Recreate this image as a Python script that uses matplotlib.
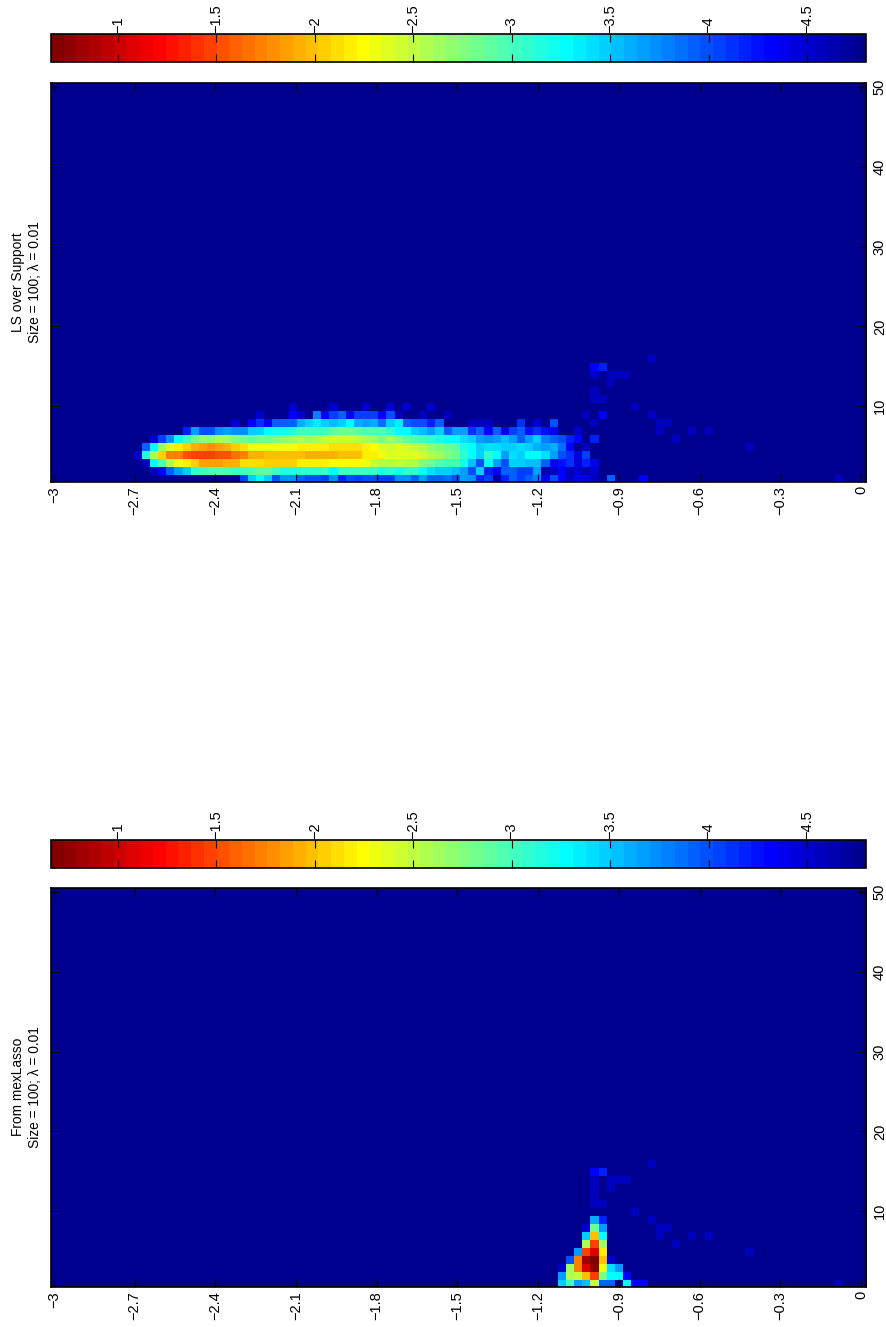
import numpy as np
import matplotlib
matplotlib.use('Agg')
import matplotlib.pyplot as plt
from matplotlib.colors import LinearSegmentedColormap

plt.rcParams['font.family'] = ['Liberation Sans', 'DejaVu Sans']

# log10 values, one list per row, from column ls_first[i]
bg = -6
ls_first = [23, 12, 11, 10, 11, 12, 16, 22, 25]
ls_row1 = [-4.05, -3.5, -3.3, -3.5, -4.0, -3.75, -3.75, -3.9, -4.0, -4.0, -4.05, -3.75,
           -4.2, -4.0, -4.05, -4.0, -4.0, -4.05, -4.05, -3.75, -3.75, -3.95, -3.7, -3.95, -3.95, -3.85, -4.0,
           -3.7, -3.75, -4.2, -4.05, -4.7, -4.2, -3.95, -4.05, -3.95, -3.8, -4.4, -4.0, -4.3, -4.55, -4.35,
           -4.35, -4.55, bg, -3.9]
ls_row2 = [-4.55, -4.3, -3.95, -3.65, -3.45, -3.1, -3.05, -2.95, -2.95, -2.95, -3.0, -3.05, -2.95, -2.9,
           -2.9, -3.0, -3.15, -3.15, -3.1, -3.1, -3.1, -3.05, -3.25,
           -3.0, -3.0, -3.0, -3.05, -3.05, -3.15, -3.1, -3.2, -3.1, -3.1, -3.25, -3.4, -3.45, -3.5, -3.55,
           -3.65, -4.0, -3.5, -4.2, -4.3, -3.95, -3.95, -4.05, -4.05, -3.7, -4.65, -4.55, -4.3, -4.6, -4.5,
           -4.65, -4.5]
ls_row3 = [-4.55, -3.3, -2.95, -2.6, -2.3, -2.15, -2.05, -1.85, -1.85, -1.85, -1.95, -1.95, -2.1, -2.1,
           -2.1, -2.05, -2.05, -2.05, -2.05, -2.15, -2.15, -2.15, -2.2, -2.22,
           -2.22, -2.22, -2.22, -2.3, -2.5, -2.55, -2.6, -2.5, -2.55, -2.6, -2.75, -2.8, -2.95, -3.05, -3.05,
           -3.2, -3.55, -4.0, -3.3, -3.7, -4.0, -3.45, -3.5, -3.55, -3.55, -3.95, -4.3, -4.25, -4.1, -4.45,
           -4.2, -4.4]
ls_row4 = [-4.5, -3.15, -2.55, -2.05, -1.75, -1.7, -1.55, -1.5, -1.5, -1.5, -1.55, -1.55, -1.65, -1.75,
           -1.9, -1.9, -1.97, -1.97, -1.97, -1.97, -1.97, -1.95, -1.9, -1.9, -1.92,
           -2.0, -2.0, -2.0, -2.15, -2.2, -2.3, -2.35, -2.35, -2.35, -2.4, -2.45, -2.55, -2.65, -2.75, -2.85,
           -3.1, -3.25, -3.5, -3.1, -3.25, -3.65, -3.4, -3.5, -3.25, -3.25, -3.4, -3.65, -4.0, -4.15, -4.45,
           -4.05]
ls_row5 = [-3.95, -3.3, -2.65, -2.35, -2.2, -2.05, -1.9, -1.85, -1.8, -1.88, -1.95, -2.05, -2.1, -2.32,
           -2.32, -2.32, -2.3, -2.3, -2.3, -2.2, -2.15, -2.15, -2.15, -2.12,
           -2.12, -2.12, -2.12, -2.15, -2.25, -2.35, -2.45, -2.4, -2.45, -2.5, -2.55, -2.7, -2.75, -2.85, -2.9,
           -3.15, -3.3, -3.45, -3.4, -3.4, -3.45, -3.45, -3.4, -3.45, -3.6, -3.7, -3.6, -3.85, -4.3, -4.8,
           -4.55]
ls_row6 = [-4.5, -4.05, -3.75, -3.25, -3.0, -2.85, -2.7, -2.7, -2.6, -2.65, -2.75, -2.85, -2.9, -2.85, -2.8,
           -2.75, -2.7, -2.65, -2.6, -2.62, -2.55, -2.5, -2.45,
           -2.45, -2.45, -2.5, -2.6, -2.65, -2.75, -2.65, -2.75, -2.9, -2.95, -3.0, -3.1, -3.15, -3.2, -3.25,
           -3.4, -3.5, -3.7, -3.75, -3.7, -3.55, -3.65, -3.95, -3.7, -3.45, -3.8, -3.95, -4.0, -4.2, -4.3,
           bg, -4.2]
ls_row7 = [-4.2, -3.65, -4.0, -4.0, -3.75, -3.7, -3.75, -3.75, -3.45, -3.5, -3.3, -3.2, -3.2, -3.15, -3.05,
           -3.0, -3.05, -3.05, -2.9,
           -2.8, -2.8, -2.9, -2.95, -2.95, -2.95, -3.1, -3.25, -3.3, -3.45, -3.55, -3.7, -3.45, -3.95, -3.65,
           -3.7, -4.1, -3.9, -4.3, -3.95, -4.4, -4.05, -3.95, -4.25, -4.15, -4.25, -4.3]
ls_row8 = [-4.5, bg, -4.3, -4.15, -4.3, -3.9, -3.9, -3.95, -3.6, -3.5, -3.35, -3.5, -3.55,
           -3.5, -3.3, -3.6, -3.65, -3.6, -3.85, -3.45, -3.35, -3.9, -4.0, -4.0, -4.2, -3.9]
ls_row9 = [-4.5, bg, bg, bg, -4.3, -4.5, bg, -3.8, -4.3, -4.05,
           -3.95, -4.3, -4.05, -4.05, -4.05, -4.3, -4.0, -4.55]
# isolated cells of the LS panel
ls_cell_row = [10, 10, 10, 10, 10, 10, 9, 9, 9, 9, 8, 8, 8, 8, 8, 8, 8, 7]
ls_cell_col = [29, 34, 38, 41, 43, 46, 45, 48, 65, 67, 51, 52, 53, 57, 59, 61, 66, 64]
ls_cell_val = [-4.5, -4.5, -4.5, -4.5, -4.5, -4.5, -4.55, -4.55, -4.55, -4.3,
               -4.55, -4.55, -4.55, -4.1, -4.5, -4.0, -4.6, -4.5]

mex_first = [62, 62, 62, 63, 64, 65, 65, 65, 66]
mex_row1 = [-3.45, -3.05, -3.7, -3.55, -2.45, -3.9, -3.95, -4.7, -3.25, -4.3, -4.3]
mex_row2 = [-3.65, -2.55, -2.5, -2.0, -1.45, -2.75, -3.25, -3.25, -4.3]
mex_row3 = [-4.5, -2.65, -1.7, -1.1, -0.75, -2.3, -3.4, -3.65]
mex_row4 = [-4.0, -1.75, -0.8, -0.7, -2.0, -4.5]
mex_row5 = [-3.65, -1.45, -1.1, -2.2]
mex_row6 = [-2.6, -1.45, -2.65]
mex_row7 = [-3.45, -2.0, -3.3]
mex_row8 = [-4.5, -2.85, -3.7]
mex_row9 = [-3.6, -4.2]
mex_cell_row = [13, 1]
mex_cell_col = [66, 71]
mex_cell_val = [-4.55, -4.3]

# cells seen in both panels
both_row = [15, 15, 14, 14, 14, 14, 13, 12, 11, 11, 16, 10, 9, 8, 8, 7, 7, 7, 6, 5, 1, 1]
both_col = [66, 67, 66, 68, 69, 70, 68, 66, 66, 67, 73, 71, 73, 74, 75, 74, 78, 80, 76, 85, 72, 96]
both_val = [-4.3, -4.2, -4.55, -4.55, -4.55, -4.55, -4.55, -4.55, -4.55, -4.55, -4.55, -4.55,
            -4.55, -4.55, -4.55, -4.55, -4.55, -4.55, -4.55, -4.55, -4.3, -4.55]

x_ticks = [-3, -2.7, -2.4, -2.1, -1.8, -1.5, -1.2, -0.9, -0.6, -0.3, 0]
x_labels = ['\u22123', '\u22122.7', '\u22122.4', '\u22122.1', '\u22121.8', '\u22121.5', '\u22121.2',
            '\u22120.9', '\u22120.6', '\u22120.3', '0']
y_ticks = [10, 20, 30, 40, 50]
cb_ticks = [-1, -1.5, -2, -2.5, -3, -3.5, -4, -4.5]
cb_labels = ['\u22121', '\u22121.5', '\u22122', '\u22122.5', '\u22123', '\u22123.5', '\u22124', '\u22124.5']
clim = (-4.8, -0.66)

W, H = 886, 1327


def px_axes(x0, y0, x1, y1):
    return fig.add_axes([x0 / W, 1 - y1 / H, (x1 - x0) / W, (y1 - y0) / H])


def build_img(first, rows, cell_row, cell_col, cell_val):
    img = np.full((50, 100), float(bg))
    for i, vals in enumerate(rows):
        img[i, first[i]:first[i] + len(vals)] = vals
    for r, c, v in zip(both_row, both_col, both_val):
        img[r - 1, c] = v
    for r, c, v in zip(cell_row, cell_col, cell_val):
        img[r - 1, c] = v
    return img


def draw_panel(img, title, ytop, ybar):
    ax = px_axes(51, ytop, 866, ytop + 399)
    ax.set_facecolor(jet(0))
    # the raster sits about a pixel off the ticks in the original
    im = ax.imshow(img, origin='lower', aspect='auto', cmap=jet, vmin=clim[0], vmax=clim[1],
                   interpolation='nearest', extent=(-3.008, 0.022, 0.375, 50.375))
    ax.set_xlim(-3.011, 0.019)
    ax.set_ylim(0.5, 50.5)
    ax.set_xticks(x_ticks)
    ax.set_xticklabels(x_labels, rotation=90, va='top', ha='center')
    ax.set_yticks(y_ticks)
    ax.yaxis.tick_right()
    ax.set_yticklabels(y_ticks, rotation=90, va='center', ha='left')
    ax.tick_params(direction='in', length=5.7, width=0.8, labelsize=10.5, top=True, bottom=True,
                   left=True, right=True, labelleft=False, labelright=True)
    ax.tick_params(axis='x', pad=3)
    ax.tick_params(axis='y', pad=5)
    for s in ax.spines.values():
        s.set_linewidth(1.2)

    cax = px_axes(51, ybar, 866, ybar + 28)
    cb = fig.colorbar(im, cax=cax, orientation='horizontal', ticklocation='top')
    cax.invert_xaxis()
    cb.set_ticks(cb_ticks)
    cb.set_ticklabels(cb_labels)
    cax.tick_params(axis='x', direction='in', length=5.7, width=0.8, labelsize=10.5, top=True, bottom=True,
                    labeltop=True, labelbottom=False, pad=0.5, labelrotation=90)
    cb.outline.set_linewidth(1.2)

    fig.text(26.5 / W, 1 - (ytop + 199) / H, title, rotation=90, ha='center', va='center',
             ma='center', fontsize=9.9, linespacing=1.27)


fig = plt.figure(figsize=(W / 100, H / 100), dpi=100)

# matlab flavour of jet, 64 levels
jet = LinearSegmentedColormap.from_list('mjet', [(0, (0, 0, 0.5625)), (7 / 63, (0, 0, 1)), (23 / 63, (0, 1, 1)),
                                                 (39 / 63, (1, 1, 0)), (55 / 63, (1, 0, 0)), (1, (0.5, 0, 0))], N=64)

ls_img = build_img(ls_first, [ls_row1, ls_row2, ls_row3, ls_row4, ls_row5, ls_row6, ls_row7, ls_row8, ls_row9],
                   ls_cell_row, ls_cell_col, ls_cell_val)
mex_img = build_img(mex_first, [mex_row1, mex_row2, mex_row3, mex_row4, mex_row5, mex_row6, mex_row7, mex_row8, mex_row9],
                    mex_cell_row, mex_cell_col, mex_cell_val)

draw_panel(ls_img, 'LS over Support\nSize = 100; \u03bb = 0.01', 83, 34)
draw_panel(mex_img, 'From mexLasso\nSize = 100; \u03bb = 0.01', 888, 840)

fig.savefig('out.png', dpi=100)
